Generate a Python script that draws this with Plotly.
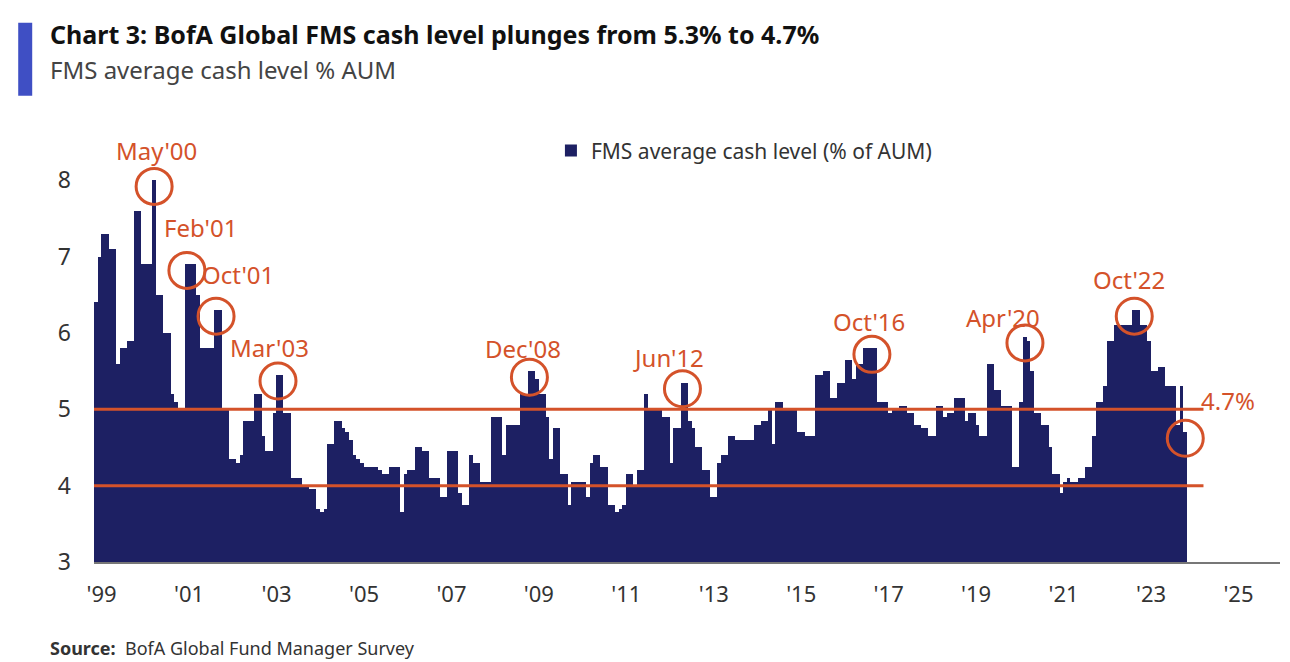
import plotly.graph_objects as go

# monthly FMS cash level, Jan 1999 - Dec 2023
cash_1999_2005 = [
    6.4, 7.0, 7.3, 7.3, 7.1, 7.1, 5.6, 5.8, 5.8, 5.9, 5.9, 7.6,
    7.6, 6.9, 6.9, 6.9, 8.0, 6.5, 6.5, 6.0, 6.0, 5.2, 5.1, 5.0,
    5.0, 6.9, 6.9, 6.9, 6.5, 5.8, 5.8, 5.8, 5.8, 6.3, 6.3, 5.0,
    5.0, 4.35, 4.35, 4.3, 4.4, 4.85, 4.85, 4.85, 5.2, 5.2, 4.65, 4.45,
    4.45, 4.95, 5.45, 5.45, 4.95, 4.95, 4.1, 4.1, 4.1, 4.0, 4.0, 3.95,
    3.95, 3.7, 3.65, 3.7, 4.55, 4.55, 4.85, 4.85, 4.75, 4.7, 4.6, 4.4,
    4.35, 4.3, 4.25, 4.25, 4.25, 4.25, 4.2, 4.15, 4.15, 4.25, 4.25, 4.25,
]
cash_2006_2012 = [
    3.65, 4.15, 4.2, 4.2, 4.5, 4.5, 4.45, 4.45, 4.1, 4.1, 4.1, 3.85,
    3.85, 4.45, 4.45, 4.45, 3.9, 3.75, 3.75, 4.4, 4.3, 4.3, 4.05, 4.05,
    4.05, 4.9, 4.9, 4.9, 4.4, 4.8, 4.8, 4.8, 4.8, 5.2, 5.2, 5.5,
    5.5, 5.4, 5.2, 5.2, 4.9, 4.35, 4.75, 4.75, 4.15, 4.15, 3.75, 4.05,
    4.05, 4.05, 4.05, 3.85, 4.3, 4.4, 4.4, 4.25, 4.25, 3.75, 3.75, 3.65,
    3.7, 3.75, 4.15, 4.15, 4.0, 4.2, 4.2, 5.2, 5.0, 5.0, 5.0, 5.0,
    4.9, 4.9, 4.3, 4.75, 4.75, 5.35, 5.35, 4.85, 4.75, 4.5, 4.5, 4.2,
]
cash_2013_2018 = [
    4.2, 3.85, 3.85, 4.3, 4.4, 4.4, 4.65, 4.65, 4.6, 4.6, 4.6, 4.6,
    4.6, 4.8, 4.8, 4.85, 4.85, 5.0, 4.55, 5.1, 5.1, 5.0, 5.0, 5.0,
    5.0, 4.7, 4.7, 4.65, 4.65, 4.65, 5.45, 5.45, 5.5, 5.5, 5.15, 5.15,
    5.35, 5.35, 5.65, 5.65, 5.4, 5.6, 5.6, 5.8, 5.8, 5.8, 5.8, 5.1,
    5.1, 5.1, 4.95, 5.0, 5.0, 5.05, 5.05, 4.95, 4.95, 4.8, 4.8, 4.75,
    4.75, 4.65, 4.65, 5.05, 5.05, 4.9, 4.95, 4.95, 5.15, 5.15, 5.15, 4.85,
]
cash_2019_2023 = [
    4.95, 4.95, 4.8, 4.65, 4.65, 5.6, 5.6, 5.25, 5.25, 5.05, 5.05, 5.05,
    4.25, 4.25, 5.1, 5.95, 5.9, 5.5, 4.95, 4.95, 4.8, 4.8, 4.5, 4.15,
    4.15, 3.9, 4.05, 4.1, 4.05, 4.05, 4.1, 4.1, 4.25, 4.25, 4.65, 5.1,
    5.1, 5.3, 5.9, 5.9, 6.1, 6.1, 6.1, 6.1, 6.1, 6.3, 6.3, 6.1,
    6.1, 5.9, 5.5, 5.5, 5.55, 5.55, 5.3, 5.3, 5.3, 4.8, 5.3, 4.7,
]
cash = cash_1999_2005 + cash_2006_2012 + cash_2013_2018 + cash_2019_2023
months = list(range(len(cash)))

tick_labels = ["'99", "'01", "'03", "'05", "'07", "'09", "'11", "'13",
               "'15", "'17", "'19", "'21", "'23", "'25"]
tick_pos = [1.6 + 24 * i for i in range(len(tick_labels))]

# highlighted months: (label, month index, text shift x, text shift y)
highlights = [
    ("May'00", 16, 2, 36), ("Feb'01", 25, 14, 43), ("Oct'01", 33, 22, 42),
    ("Mar'03", 50, -9, 34), ("Dec'08", 119, -6, 29), ("Jun'12", 161, -14, 31),
    ("Oct'16", 213, -3, 33), ("Apr'20", 255, -22, 25), ("Oct'22", 285, -5, 37),
    ("4.7%", 299, 43, 38),
]

NAVY = "#1d2063"
ORANGE = "#d4522a"

fig = go.Figure()
fig.add_trace(go.Bar(x=months, y=cash, marker_color=NAVY, marker_line_width=0,
                     name="FMS average cash level (% of AUM)"))

hx = [h[1] for h in highlights]
hy = [cash[h[1]] - 0.08 for h in highlights]
fig.add_trace(go.Scatter(x=hx, y=hy, mode="markers", showlegend=False,
                         marker=dict(symbol="circle-open", size=36,
                                     color=ORANGE, line=dict(width=3, color=ORANGE))))

for lab, i, dx, dy in highlights:
    fig.add_annotation(x=i, y=cash[i] - 0.08, text=lab, showarrow=False,
                       xshift=dx, yshift=dy,
                       font=dict(size=24, color=ORANGE, family="Noto Sans"))

for lvl in [4, 5]:
    fig.add_shape(type="line", x0=-0.5, x1=304, y0=lvl, y1=lvl,
                  line=dict(color=ORANGE, width=3), layer="above")

fig.update_layout(
    width=1290, height=662,
    margin=dict(l=86, r=18, t=112, b=108),
    plot_bgcolor="white", paper_bgcolor="white",
    bargap=0,
    font=dict(family="Noto Sans", color="#333333"),
    legend=dict(x=0.548, y=0.93, xanchor="center", yanchor="middle",
                font=dict(size=21, color="#333333"), itemwidth=30),
    xaxis=dict(range=[-0.5, 325], tickvals=tick_pos, ticktext=tick_labels,
               tickfont=dict(size=22, color="#333333"), showgrid=False,
               showline=True, linecolor="#777777", linewidth=2, ticks="",
               zeroline=False, ticklabelstandoff=12),
    yaxis=dict(range=[3, 8.79], tickvals=[3, 4, 5, 6, 7, 8],
               tickfont=dict(size=23, color="#333333"), showgrid=False,
               zeroline=False, ticklabelstandoff=22),
    showlegend=True,
)

fig.add_shape(type="rect", xref="paper", yref="paper", x0=-0.0639, x1=-0.0521,
              y0=1.055, y1=1.22, fillcolor="#3f4fc4", line_width=0)
fig.add_annotation(xref="paper", yref="paper", x=-0.0387, y=1.194, xanchor="left",
                   yanchor="middle", showarrow=False,
                   text="<b>Chart 3: BofA Global FMS cash level plunges from 5.3% to 4.7%</b>",
                   font=dict(size=25, color="#111111", family="Noto Sans"))
fig.add_annotation(xref="paper", yref="paper", x=-0.0387, y=1.114, xanchor="left",
                   yanchor="middle", showarrow=False,
                   text="FMS average cash level % AUM",
                   font=dict(size=24, color="#444444", family="Noto Sans"))
fig.add_annotation(xref="paper", yref="paper", x=-0.0387, y=-0.195, xanchor="left",
                   yanchor="middle", showarrow=False,
                   text="<b>Source:</b>  BofA Global Fund Manager Survey",
                   font=dict(size=18, color="#333333", family="Noto Sans"))

fig.write_html("out.html")
